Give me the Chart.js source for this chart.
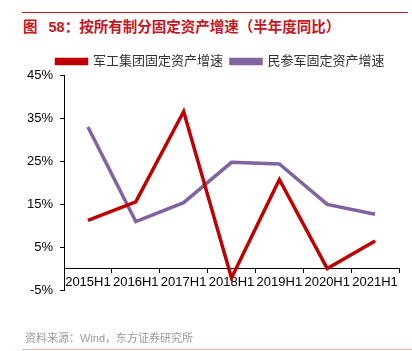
<!DOCTYPE html>
<html>
<head>
<meta charset="utf-8">
<script src="https://cdn.jsdelivr.net/npm/chart.js@4.4.1/dist/chart.umd.min.js"></script>
<style>
  html, body { margin: 0; padding: 0; background: #fff; }
  body { width: 412px; height: 351px; position: relative; overflow: hidden;
         font-family: "Liberation Sans", "Noto Sans CJK SC", sans-serif; }
  #topLine { position: absolute; left: 22px; top: 12px; width: 386px; height: 1px; background: #d0181f; }
  #title { position: absolute; left: 23px; top: 15px; font-size: 14.5px; font-weight: bold; color: #c8161d; white-space: nowrap; word-spacing: 7px; }
  #source { position: absolute; left: 25px; top: 329px; font-size: 11px; color: #9a9a9a; white-space: nowrap; }
  #bottomLine { position: absolute; left: 22px; top: 349px; width: 390px; height: 1px; background: #f2b6b6; }
  #wrap { position: absolute; left: 0; top: 0; width: 412px; height: 351px; }
</style>
</head>
<body>
<div id="topLine"></div>
<div id="title">图 58：按所有制分固定资产增速（半年度同比）</div>
<div id="wrap"><canvas id="myChart" width="412" height="351"></canvas></div>
<div id="source">资料来源：Wind，东方证券研究所</div>
<div id="bottomLine"></div>
<script>
// Data (percent)
const periods = ["2015H1", "2016H1", "2017H1", "2018H1", "2019H1", "2020H1", "2021H1"];
const militaryGroup = [11.2, 15.5, 36.5, -2.2, 20.7, 0.0, 6.4];   // 军工集团固定资产增速
const privateMilitary = [32.9, 10.9, 15.3, 24.7, 24.3, 14.9, 12.6]; // 民参军固定资产增速
const yTicks = [-5, 5, 15, 25, 35, 45];

const font = "'Liberation Sans', 'Noto Sans CJK SC', sans-serif";

// shrink the gap between legend and plot, and nudge legend to the right
const legendTweak = {
  id: 'legendTweak',
  beforeLayout(chart) {
    const lg = chart.legend;
    if (lg && !lg._gapPatched) {
      const fit = lg.fit;
      lg.fit = function() { fit.call(this); this.height -= 3; };
      lg._gapPatched = true;
    }
  },
  afterLayout(chart) {
    if (chart.legend) chart.legend.left = 42;
  }
};

const ctx = document.getElementById('myChart');
const myChart = new Chart(ctx, {
  type: 'line',
  data: {
    labels: periods,
    datasets: [
      {
        label: '军工集团固定资产增速',
        data: militaryGroup,
        borderColor: '#c00000',
        backgroundColor: '#c00000',
        borderWidth: 3.5,
        pointRadius: 0,
        tension: 0
      },
      {
        label: '民参军固定资产增速',
        data: privateMilitary,
        borderColor: '#8064a2',
        backgroundColor: '#8064a2',
        borderWidth: 3.5,
        pointRadius: 0,
        tension: 0
      }
    ]
  },
  options: {
    responsive: false,
    animation: false,
    layout: { padding: { left: 20, right: 13, top: 47, bottom: 61 } },
    scales: {
      x: {
        type: 'category',
        offset: true,
        position: { y: 0 },
        grid: { display: true, drawOnChartArea: false, offset: true, tickLength: 4, color: '#000' },
        border: { display: true, color: '#000', width: 1 },
        ticks: { color: '#000', font: { family: font, size: 13 }, padding: 2, maxRotation: 0, autoSkip: false }
      },
      y: {
        min: -5,
        max: 45,
        afterBuildTicks: axis => { axis.ticks = yTicks.map(v => ({ value: v })); },
        afterFit: axis => { axis.width = 44; },
        grid: { display: true, drawOnChartArea: false, tickLength: 4, color: '#000' },
        border: { display: true, color: '#000', width: 1 },
        ticks: { color: '#000', font: { family: font, size: 13 }, padding: 7, callback: v => v + '%' }
      }
    },
    plugins: {
      legend: {
        display: true,
        position: 'top',
        labels: {
          boxWidth: 30,
          boxHeight: 4,
          padding: 8,
          color: '#333',
          font: { family: font, size: 13 }
        }
      },
      tooltip: { enabled: false }
    }
  },
  plugins: [legendTweak]
});
</script>
</body>
</html>
